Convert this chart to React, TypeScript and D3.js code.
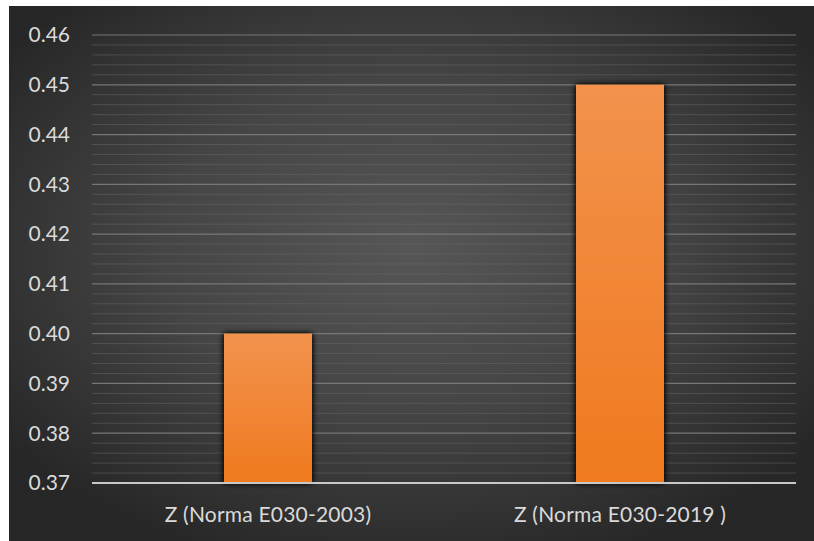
import React from "react";
import * as d3 from "d3";

const categories = ["Z (Norma E030-2003)", "Z (Norma E030-2019 )"];
const values = [0.4, 0.45];
const majorTicks = [0.37, 0.38, 0.39, 0.4, 0.41, 0.42, 0.43, 0.44, 0.45, 0.46];
const minorTicks = d3.range(0, 45).map((i) => 0.372 + i * 0.002).filter((v) => Math.round(v * 1000) % 10 !== 0 && v < 0.46);

const W = 814;
const H = 541;
const margin = { left: 92, right: 18, top: 35, bottom: 58 };

export default function App() {
  const x = d3
    .scaleBand<string>()
    .domain(categories)
    .range([margin.left, W - margin.right])
    .paddingInner(0.75)
    .paddingOuter(0.375);
  const y = d3
    .scaleLinear()
    .domain([0.37, 0.46])
    .range([H - margin.bottom, margin.top]);
  const font = "Lato, 'Open Sans', sans-serif";

  return (
    <svg
      width={W}
      height={H}
      style={{ position: "absolute", left: 0, top: 0, display: "block", background: "#fff" }}
    >
      <defs>
        <radialGradient id="bg" cx="0.5" cy="0.45" r="0.62">
          <stop offset="0" stopColor="#565656" />
          <stop offset="0.5" stopColor="#454545" />
          <stop offset="1" stopColor="#272727" />
        </radialGradient>
        <linearGradient id="barFill" x1="0" y1="0" x2="0" y2="1">
          <stop offset="0" stopColor="#f2924d" />
          <stop offset="1" stopColor="#f07a1f" />
        </linearGradient>
        <filter id="shadow" x="-20%" y="-10%" width="140%" height="120%">
          <feGaussianBlur in="SourceAlpha" stdDeviation="3" />
          <feOffset dx="0" dy="0" />
          <feComponentTransfer>
            <feFuncA type="linear" slope="1.4" />
          </feComponentTransfer>
          <feMerge>
            <feMergeNode />
            <feMergeNode in="SourceGraphic" />
          </feMerge>
        </filter>
      </defs>
      <rect x={9} y={6} width={W - 9} height={H - 6} fill="url(#bg)" />

      {/* minor grid */}
      {minorTicks.map((t) => (
        <line
          key={"m" + t}
          x1={margin.left}
          x2={W - margin.right}
          y1={y(t)}
          y2={y(t)}
          stroke="#6a6a6a"
          strokeOpacity={0.5}
          strokeWidth={1}
        />
      ))}
      {/* major grid */}
      {majorTicks.slice(1).map((t) => (
        <line
          key={"g" + t}
          x1={margin.left}
          x2={W - margin.right}
          y1={y(t)}
          y2={y(t)}
          stroke="#777777"
          strokeWidth={1.2}
        />
      ))}

      {/* bars */}
      {categories.map((c, i) => (
        <rect
          key={c}
          x={x(c)}
          y={y(values[i])}
          width={x.bandwidth()}
          height={y(0.37) - y(values[i])}
          fill="url(#barFill)"
          filter="url(#shadow)"
        />
      ))}

      {/* axis line */}
      <line
        x1={margin.left}
        x2={W - margin.right}
        y1={y(0.37)}
        y2={y(0.37)}
        stroke="#c8c8c8"
        strokeWidth={2}
      />

      {/* y tick labels */}
      {majorTicks.map((t) => (
        <text
          key={"t" + t}
          x={70}
          y={y(t)}
          dy="0.35em"
          textAnchor="end"
          fill="#dadada"
          fontFamily={font}
          fontSize={21}
        >
          {d3.format(".2f")(t)}
        </text>
      ))}

      {/* category labels */}
      {categories.map((c) => (
        <text
          key={"c" + c}
          x={(x(c) as number) + x.bandwidth() / 2}
          y={522}
          textAnchor="middle"
          fill="#dadada"
          fontFamily={font}
          fontSize={21}
          letterSpacing={0.2}
        >
          {c}
        </text>
      ))}
    </svg>
  );
}
